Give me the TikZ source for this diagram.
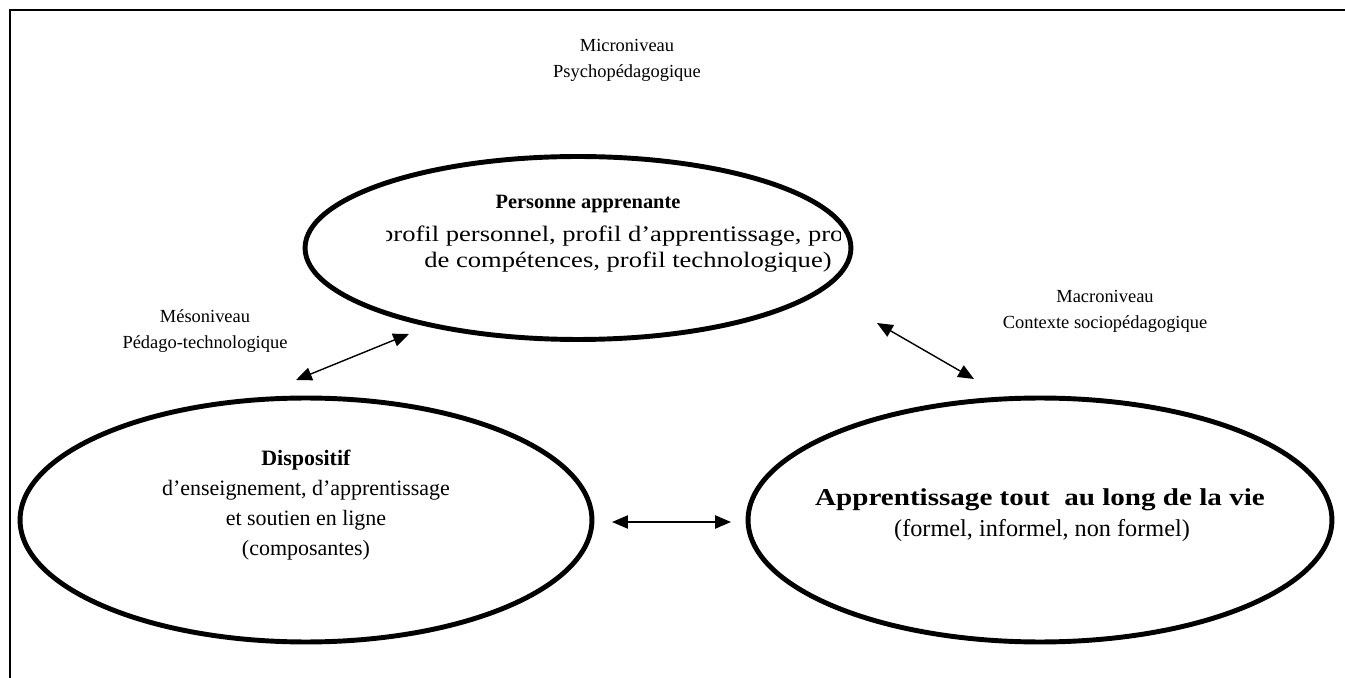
\documentclass[tikz,border=0pt]{standalone}
\usepackage{fontspec}
\setmainfont{Liberation Serif}
\newfontfamily\widerfont[FakeStretch=1.2]{Liberation Serif}
\usetikzlibrary{shapes.geometric,arrows.meta}

\tikzset{
  oval/.style={ellipse, draw, line width=2.8pt, inner sep=0pt},
  level/.style={align=center, font=\fontsize{10.5}{14.8}\selectfont},
  body/.style={align=center, font=\fontsize{12.5}{17}\selectfont},
  wide/.style={font=\widerfont\fontsize{12.6}{15}\selectfont},
  link/.style={{Triangle[length=9pt,width=7.5pt]}-{Triangle[length=9pt,width=7.5pt]}, line width=0.8pt}
}

\begin{document}
\begin{tikzpicture}[x=0.02cm, y=-0.02cm]
  \useasboundingbox (0,0) rectangle (1345,678);
  \draw[line width=1.5pt] (10,678) -- (10,10) -- (1345,10);

  % the three circles of the model
  \node[oval, minimum width=10.92cm, minimum height=3.66cm] (learner) at (578,248) {};
  \node[oval, minimum width=11.44cm, minimum height=4.88cm] (device) at (306,520) {};
  \node[oval, minimum width=11.68cm, minimum height=4.88cm] (lifelong) at (1040,520) {};

  \node[font=\fontsize{11.6}{14}\selectfont\bfseries] (learnertitle) at (588,204) {Personne apprenante};
  \begin{scope}
    \clip (386,220) rectangle (840,254);
    \node[wide, anchor=west, inner sep=0pt] (learnerline) at (371,236) {(profil personnel, profil d’apprentissage, profil};
  \end{scope}
  \node[wide] (learnerend) at (628,262) {de compétences, profil technologique)};

  \node[body] (devicetext) at (306,505) {\textbf{Dispositif}\\d’enseignement, d’apprentissage\\et soutien en ligne\\(composantes)};
  \node[font=\widerfont\fontsize{13.8}{15}\selectfont\bfseries] (lifelongtitle) at (1040,500) {Apprentissage tout~ au long de la vie};
  \node[font=\fontsize{13.8}{15}\selectfont] (lifelongtext) at (1042,531) {(formel, informel, non formel)};

  % levels
  \node[level] (micro) at (627,60) {Microniveau\\Psychopédagogique};
  \node[level] (meso) at (205,331) {Mésoniveau\\Pédago-technologique};
  \node[level] (macro) at (1105,311) {Macroniveau\\Contexte sociopédagogique};

  % arrows
  \coordinate (a1) at (296,380);
  \coordinate (a2) at (409,334);
  \coordinate (b1) at (877,323);
  \coordinate (b2) at (974,379);
  \coordinate (c1) at (612,522);
  \coordinate (c2) at (731,522);
  \draw[link] (a1) -- (a2);
  \draw[link] (b1) -- (b2);
  \draw[link] (c1) -- (c2);
\end{tikzpicture}
\end{document}
